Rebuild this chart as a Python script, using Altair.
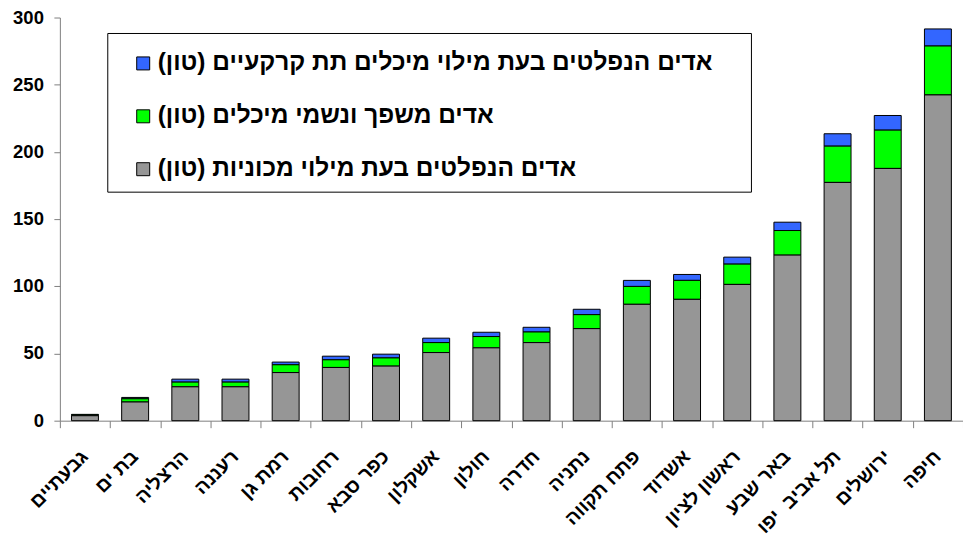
import altair as alt
import pandas as pd

cities = ["גבעתיים", "בת ים", "הרצליה", "רעננה", "רמת גן", "רחובות", "כפר סבא",
          "אשקלון", "חולון", "חדרה", "נתניה", "פתח תקווה", "אשדוד", "ראשון לציון",
          "באר שבע", "תל אביב\u00a0 יפו", "ירושלים", "חיפה"]

cars = [3.7, 13.9, 25.2, 25.2, 35.8, 39.6, 40.6, 50.7, 54.2, 58.1, 68.5, 86.6,
        90.3, 101.4, 123.2, 177.3, 187.7, 242.4]
tanks = [0.6, 2.4, 3.5, 3.5, 5.8, 5.7, 6.1, 7.4, 8.4, 7.9, 10.4, 13.3,
         14.1, 15.1, 18.3, 27.0, 28.5, 36.4]
underground = [0.4, 1.0, 2.2, 2.2, 2.0, 2.7, 2.8, 3.3, 3.2, 3.5, 4.0, 4.5,
               4.4, 5.2, 6.2, 9.2, 10.9, 12.7]

y_ticks = [0, 50, 100, 150, 200, 250, 300]

RLM = "\u200f"
s_under = "אדים הנפלטים בעת מילוי מיכלים תת קרקעיים (טון)" + RLM
s_tanks = "אדים משפך ונשמי מיכלים (טון)" + RLM
s_cars = "אדים הנפלטים בעת מילוי מכוניות (טון)" + RLM

series_names = [s_under, s_tanks, s_cars]
series_colors = ["#3366FF", "#00FF00", "#969696"]
series_values = [underground, tanks, cars]
stack_order = [2, 1, 0]

rows = []
for name, vals, order in zip(series_names, series_values, stack_order):
    for c, v in zip(cities, vals):
        rows.append({"city": c, "series": name, "value": v, "order": order})
df = pd.DataFrame(rows)

FONT = "Liberation Sans"
xscale = alt.Scale(domain=cities, paddingInner=0, paddingOuter=0)
yscale = alt.Scale(domain=[0, 300], nice=False)

bars = alt.Chart(df).mark_bar(size=27, stroke="#000000", strokeWidth=1).encode(
    x=alt.X("city:N", sort=cities, title=None, scale=xscale,
            axis=alt.Axis(labels=False, tickBand="extent", tickSize=7,
                          domainColor="#808080", tickColor="#808080", grid=False)),
    y=alt.Y("value:Q", stack="zero", title=None, scale=yscale,
            axis=alt.Axis(values=y_ticks, labels=False, tickSize=6,
                          domainColor="#808080", tickColor="#808080", grid=False)),
    color=alt.Color("series:N",
                    scale=alt.Scale(domain=series_names, range=series_colors),
                    legend=None),
    order=alt.Order("order:Q", sort="ascending"),
)

# y-axis labels (bold) drawn as text on the shared y scale
ylab = alt.Chart(pd.DataFrame({"v": y_ticks})).mark_text(
    font=FONT, fontSize=18.5, fontWeight="bold", align="right", baseline="middle",
    color="#000000").encode(
    y=alt.Y("v:Q", scale=yscale), x=alt.value(-16), text=alt.Text("v:Q"))

# x-axis labels (bold, rotated) drawn on the shared x scale
xlab = alt.Chart(pd.DataFrame({"c": cities})).mark_text(
    font=FONT, fontSize=19.5, fontWeight="bold", align="right", baseline="middle",
    angle=315, color="#000000").encode(
    x=alt.X("c:N", sort=cities, scale=xscale), y=alt.value(437), text="c:N")

# legend
box = alt.Chart(pd.DataFrame({"k": [0]})).mark_rect(
    fill="#FFFFFF", stroke="#000000", strokeWidth=1).encode(
    x=alt.value(48), x2=alt.value(693), y=alt.value(16), y2=alt.value(175))

legend_layers = [box]
row_y = [46, 99, 152]
for name, col, ry in zip(series_names, series_colors, row_y):
    one = pd.DataFrame({"s": [name]})
    legend_layers.append(alt.Chart(one).mark_square(
        size=169, fill=col, stroke="#000000", strokeWidth=1, opacity=1).encode(
        x=alt.value(83.5), y=alt.value(ry)))
    legend_layers.append(alt.Chart(one).mark_text(
        font=FONT, fontSize=24.5, fontWeight="bold", align="left", baseline="middle",
        color="#000000").encode(
        x=alt.value(98), y=alt.value(ry), text="s:N"))

chart = alt.layer(bars, ylab, xlab, *legend_layers).properties(
    width=905, height=404,
    autosize=alt.AutoSizeParams(type="none"),
    padding={"left": 60, "top": 17, "right": 0, "bottom": 114},
).configure_view(stroke=None)

chart.save("out.html", embed_options={"renderer": "svg", "actions": False})
